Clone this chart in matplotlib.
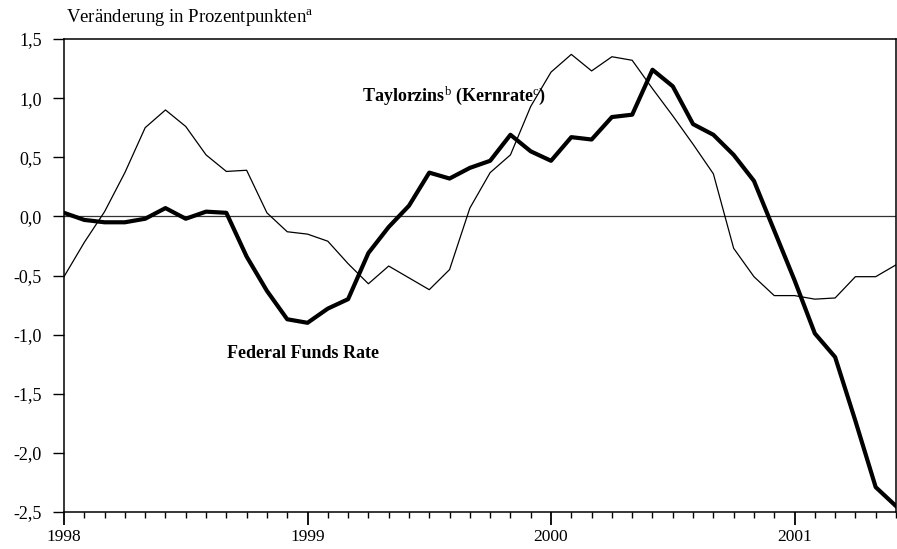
import numpy as np
import matplotlib
matplotlib.use("Agg")
import matplotlib.pyplot as plt
from matplotlib.ticker import FixedLocator, MultipleLocator

plt.rcParams['font.family'] = ['Liberation Serif', 'DejaVu Serif']
plt.rcParams['mathtext.fontset'] = 'custom'
plt.rcParams['mathtext.rm'] = 'Liberation Serif'
plt.rcParams['mathtext.it'] = 'Liberation Serif:italic'
plt.rcParams['mathtext.bf'] = 'Liberation Serif:bold'

# monthly values, Jan 1998 .. Jun 2001
start_year = 1998
taylor = [-0.51, -0.22, 0.04, 0.37, 0.75, 0.90, 0.76, 0.52, 0.38, 0.39, 0.03, -0.13,
          -0.15, -0.21, -0.40, -0.57, -0.42, -0.52, -0.62, -0.45, 0.07, 0.37, 0.52, 0.93,
          1.22, 1.37, 1.23, 1.35, 1.32, 1.08, 0.85, 0.61, 0.36, -0.27, -0.51, -0.67,
          -0.67, -0.70, -0.69, -0.51, -0.51, -0.41]
fedfunds = [0.03, -0.03, -0.05, -0.05, -0.02, 0.07, -0.02, 0.04, 0.03, -0.34, -0.63, -0.87,
            -0.90, -0.78, -0.70, -0.31, -0.09, 0.09, 0.37, 0.32, 0.41, 0.47, 0.69, 0.55,
            0.47, 0.67, 0.65, 0.84, 0.86, 1.24, 1.10, 0.78, 0.69, 0.52, 0.30, -0.12,
            -0.54, -0.99, -1.19, -1.73, -2.29, -2.45]
years = [1998, 1999, 2000, 2001]
y_ticks = [1.5, 1.0, 0.5, 0.0, -0.5, -1.0, -1.5, -2.0, -2.5]
y_labels = ['1,5', '1,0', '0,5', '0,0', '-0,5', '-1,0', '-1,5', '-2,0', '-2,5']

x = start_year + np.arange(len(taylor)) / 12.0

fig = plt.figure(figsize=(8.97, 5.49), dpi=100)
ax = fig.add_axes([64 / 897, 37 / 549, 832 / 897, 473 / 549])

ax.axhline(0, color='#333333', lw=0.9, zorder=1)
ax.plot(x, taylor, color='black', lw=0.9, zorder=2)
ax.plot(x, fedfunds, color='black', lw=3.0, zorder=3, solid_joinstyle='round')

ax.set_xlim(start_year, x[-1])
ax.set_ylim(-2.5, 1.5)

ax.yaxis.set_major_locator(FixedLocator(y_ticks))
ax.set_yticklabels(y_labels)
ax.xaxis.set_major_locator(FixedLocator(years))
ax.set_xticklabels([str(y) for y in years])
ax.xaxis.set_minor_locator(MultipleLocator(1 / 12))

ax.tick_params(axis='y', direction='out', length=8, width=1, pad=8, labelsize=13)
ax.tick_params(axis='x', which='major', direction='out', length=9, width=1.3, pad=3, labelsize=12.5)
ax.tick_params(axis='x', which='minor', direction='out', length=4, width=1)

for s in ax.spines.values():
    s.set_linewidth(1.1)

fig.text(66 / 897, 1 - 18 / 549, 'Veränderung in Prozentpunkten$^{\\mathrm{a}}$',
         fontsize=13.5, ha='left', va='center')
ax.text(0.358, 0.88, 'Taylorzins$^{\\mathrm{b}}$ (Kernrate$^{\\mathrm{c}}$)',
        transform=ax.transAxes, fontsize=13, fontweight='bold', ha='left', va='center')
ax.text(0.196, 0.335, 'Federal Funds Rate',
        transform=ax.transAxes, fontsize=13, fontweight='bold', ha='left', va='center')

fig.savefig('out.png', dpi=100)
